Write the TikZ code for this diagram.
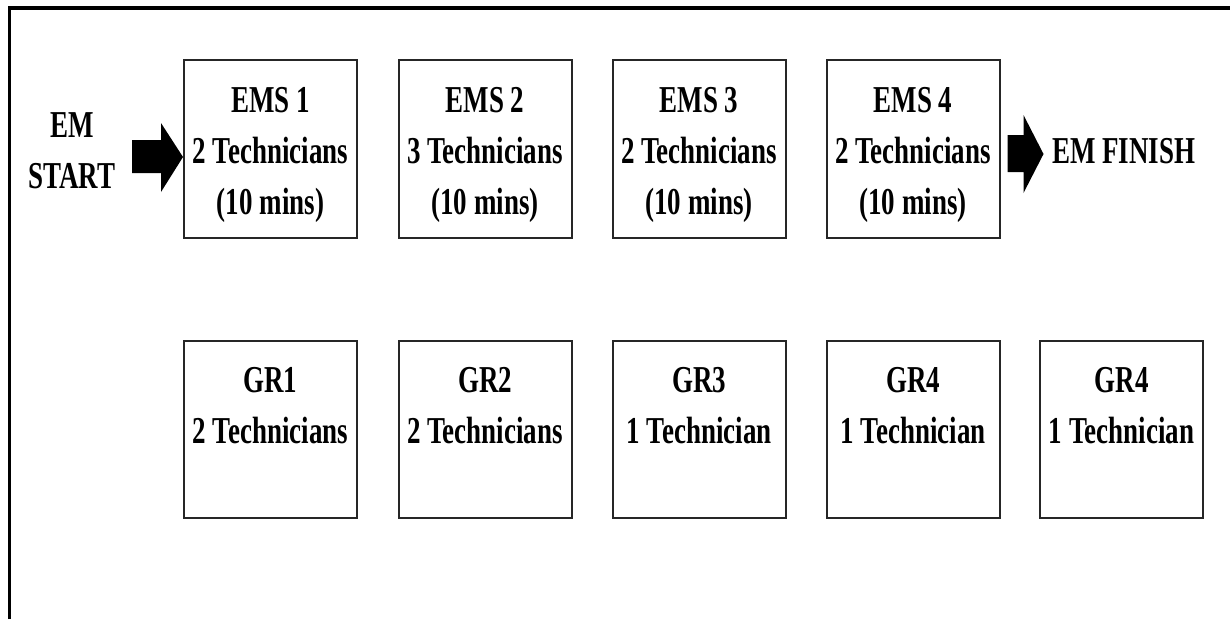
\documentclass[tikz,border=0pt]{standalone}
\usepackage{fontspec}
\usepackage{graphicx}
\setmainfont{Liberation Serif}
\usetikzlibrary{calc}

% condensed bold text block, one or more centred lines
\newcommand{\cond}[1]{\scalebox{0.71}[1]{\setlength{\tabcolsep}{0pt}\begin{tabular}{c}#1\end{tabular}}}

\tikzset{
  stage/.style={draw=black!85, line width=2pt, fill=white, rectangle,
    minimum width=173pt, minimum height=177.5pt, inner sep=0pt},
  wide/.style={stage, minimum width=163pt},
  caption/.style={inner sep=0pt, font=\fontsize{38}{51}\selectfont\bfseries},
  frame/.style={line width=3.5pt, black},
  blockarrow/.style={fill=black, draw=none}
}

\begin{document}
\begin{tikzpicture}[x=1pt, y=-1pt]
\useasboundingbox (0,0) rectangle (1230,619);
\fill[white] (0,0) rectangle (1230,619);

% outer frame (only top and left edges lie inside the page)
\draw[frame] (9.5,619) -- (9.5,8) -- (1230,8);

% upper row: EMS stages
\node[stage] (ems1) at (270.5,149) {};
\node[stage] (ems2) at (485,149) {};
\node[stage] (ems3) at (699,149) {};
\node[stage] (ems4) at (913,149) {};

\node[caption] (ems1t) at ([yshift=-4pt]ems1.center) {\cond{EMS 1\\2 Technicians\\(10 mins)}};
\node[caption] (ems2t) at ([yshift=-4pt]ems2.center) {\cond{EMS 2\\3 Technicians\\(10 mins)}};
\node[caption] (ems3t) at ([yshift=-4pt]ems3.center) {\cond{EMS 3\\2 Technicians\\(10 mins)}};
\node[caption] (ems4t) at ([yshift=-4pt]ems4.center) {\cond{EMS 4\\2 Technicians\\(10 mins)}};

% lower row: GR stations
\node[stage] (gr1) at (270.5,429.5) {};
\node[stage] (gr2) at (485,429.5) {};
\node[stage] (gr3) at (699,429.5) {};
\node[stage] (gr4) at (913,429.5) {};
\node[wide]  (gr5) at (1121.5,429.5) {};

\node[caption] (gr1t) at ([yshift=-4pt]gr1.center) {\cond{GR1\\2 Technicians\\\strut}};
\node[caption] (gr2t) at ([yshift=-4pt]gr2.center) {\cond{GR2\\2 Technicians\\\strut}};
\node[caption] (gr3t) at ([yshift=-4pt]gr3.center) {\cond{GR3\\1 Technician\\\strut}};
\node[caption] (gr4t) at ([yshift=-4pt]gr4.center) {\cond{GR4\\1 Technician\\\strut}};
\node[caption] (gr5t) at ([yshift=-4pt]gr5.center) {\cond{GR4\\1 Technician\\\strut}};

% start and finish labels
\node[caption] (start) at (72,152.3) {\cond{EM\\START}};
\node[caption, anchor=west] (finish) at (1052,153) {\cond{EM FINISH}};

% block arrows: start -> EMS 1, EMS 4 -> finish
\coordinate (tipin) at ([yshift=-8pt]ems1.west);
\fill[blockarrow] (tipin) -- ++(-22,-34) -- ++(0,17) -- ++(-29,0)
  -- ++(0,33) -- ++(29,0) -- ++(0,19) -- cycle;

\coordinate (tipout) at ([xshift=43pt,yshift=-5pt]ems4.east);
\fill[blockarrow] (tipout) -- ++(-20,-39) -- ++(0,20) -- ++(-16,0)
  -- ++(0,37) -- ++(16,0) -- ++(0,21) -- cycle;
\end{tikzpicture}
\end{document}
